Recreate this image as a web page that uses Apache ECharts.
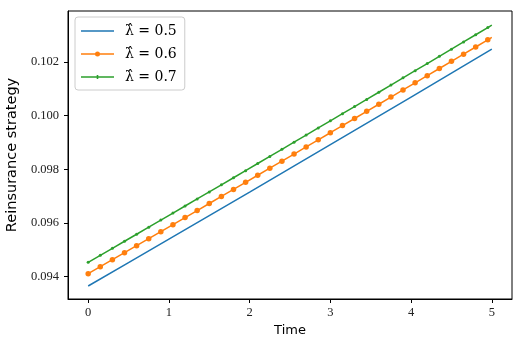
<!DOCTYPE html>
<html><head><meta charset="utf-8">
<script src="https://cdn.jsdelivr.net/npm/echarts@6/dist/echarts.min.js"></script>
<style>html,body{margin:0;padding:0;background:#fff}#c{width:516px;height:342px}</style>
</head><body><div id="c"></div>
<script>
// Data
const blueTimes = [0, 0.5, 1, 1.5, 2, 2.5, 3, 3.5, 4, 4.5, 5];
const blueValues = [0.093654, 0.094524, 0.095397, 0.096273, 0.097150, 0.098031, 0.098914, 0.099799, 0.100687, 0.101577, 0.102470];

const markerTimes = [0, 0.15, 0.3, 0.45, 0.6, 0.75, 0.9, 1.05, 1.2, 1.35, 1.5, 1.65, 1.8, 1.95, 2.1, 2.25, 2.4, 2.55, 2.7, 2.85, 3.0, 3.15, 3.3, 3.45, 3.6, 3.75, 3.9, 4.05, 4.2, 4.35, 4.5, 4.65, 4.8, 4.95, 5.0];
const orangeValues = [0.094112, 0.094372, 0.094633, 0.094893, 0.095154, 0.095415, 0.095677, 0.095938, 0.096200, 0.096462, 0.096724, 0.096987, 0.097249, 0.097512, 0.097776, 0.098039, 0.098302, 0.098566, 0.098830, 0.099095, 0.099359, 0.099624, 0.099889, 0.100154, 0.100419, 0.100685, 0.100951, 0.101217, 0.101483, 0.101750, 0.102016, 0.102283, 0.102550, 0.102818, 0.102907];
const greenValues = [0.094535, 0.094796, 0.095058, 0.095319, 0.095581, 0.095843, 0.096106, 0.096368, 0.096631, 0.096894, 0.097157, 0.097421, 0.097684, 0.097948, 0.098213, 0.098477, 0.098741, 0.099006, 0.099271, 0.099537, 0.099802, 0.100068, 0.100334, 0.100600, 0.100866, 0.101134, 0.101401, 0.101668, 0.101935, 0.102203, 0.102470, 0.102738, 0.103006, 0.103275, 0.103364];

const seriesNames = ['λ̂ = 0.5', 'λ̂ = 0.6', 'λ̂ = 0.7'];
const xTicks = [0, 1, 2, 3, 4, 5];
const yTicks = [0.094, 0.096, 0.098, 0.100, 0.102];

const serif = 'Liberation Serif';
const sans = 'DejaVu Sans';
const colors = ['#1f77b4', '#ff7f0e', '#2ca02c'];

// legend icons (33 x 10 box; corner specks fix the bounding box)
const box = 'M0,0h0.01v0.01h-0.01z M32.99,9.99h0.01v0.01h-0.01z ';
const icons = [
  'path://' + box + 'M0,4.25h33v1.5h-33z',
  'path://' + box + 'M0,4.25h15v1.5h-15z M18,4.25h15v1.5h-15z M14,5a2.5,2.5 0 1,1 5,0a2.5,2.5 0 1,1 -5,0z',
  'path://' + box + 'M0,4.25h33v1.5h-33z M15.7,3h1.6v4h-1.6z'
];

function markerData(times, vals) {
  return times.map((t, i) => i === times.length - 1 ? { value: [t, vals[i]], symbol: 'none' } : [t, vals[i]]);
}

const chart = echarts.init(document.getElementById('c'), null, { renderer: 'canvas' });
chart.setOption({
  animation: false,
  backgroundColor: '#fff',
  grid: { left: 68, right: 4, top: 11, bottom: 43, show: true, borderColor: '#000', borderWidth: 1, containLabel: false, outerBoundsMode: 'none' },
  xAxis: {
    type: 'value', min: -0.25, max: 5.25,
    name: 'Time', nameLocation: 'middle', nameGap: 24,
    nameTextStyle: { fontFamily: sans, fontSize: 13, color: '#000' },
    axisLine: { show: true, onZero: false, lineStyle: { color: '#000', width: 1 } },
    axisTick: { show: true, customValues: xTicks, length: 4, lineStyle: { color: '#000' } },
    axisLabel: { customValues: xTicks, margin: 7, fontFamily: serif, fontSize: 12.5, color: '#222', formatter: v => String(v) },
    splitLine: { show: false }
  },
  yAxis: {
    type: 'value', min: 0.09317, max: 0.10389,
    name: 'Reinsurance strategy', nameLocation: 'middle', nameGap: 46,
    nameTextStyle: { fontFamily: sans, fontSize: 14.5, color: '#000' },
    axisLine: { show: true, onZero: false, lineStyle: { color: '#000', width: 1 } },
    axisTick: { show: true, customValues: yTicks, length: 4, lineStyle: { color: '#000' } },
    axisLabel: { customValues: yTicks, margin: 9, fontFamily: serif, fontSize: 12.5, color: '#222', formatter: v => v.toFixed(3) },
    splitLine: { show: false }
  },
  legend: {
    orient: 'vertical', left: 75, top: 17,
    padding: [7, 8, 6, 6],
    itemWidth: 33, itemHeight: 10, itemGap: 9,
    borderColor: '#cccccc', borderWidth: 1, borderRadius: 3,
    backgroundColor: 'rgba(255,255,255,0.8)',
    textStyle: { fontFamily: 'DejaVu Serif', fontSize: 14, color: '#000', padding: [0, 0, 0, 6] },
    data: seriesNames.map((n, i) => ({ name: n, icon: icons[i], itemStyle: { color: colors[i] } }))
  },
  series: [
    {
      name: seriesNames[0], type: 'line', symbol: 'none',
      lineStyle: { color: colors[0], width: 1.5 }, itemStyle: { color: colors[0] },
      data: blueTimes.map((t, i) => [t, blueValues[i]])
    },
    {
      name: seriesNames[1], type: 'line', symbol: 'circle', symbolSize: 5.5, showAllSymbol: true,
      lineStyle: { color: colors[1], width: 1.5 }, itemStyle: { color: colors[1] },
      data: markerData(markerTimes, orangeValues)
    },
    {
      name: seriesNames[2], type: 'line', symbol: 'circle', symbolSize: 3, showAllSymbol: true,
      lineStyle: { color: colors[2], width: 1.5 }, itemStyle: { color: colors[2] },
      data: markerData(markerTimes, greenValues)
    }
  ]
});
</script></body></html>
